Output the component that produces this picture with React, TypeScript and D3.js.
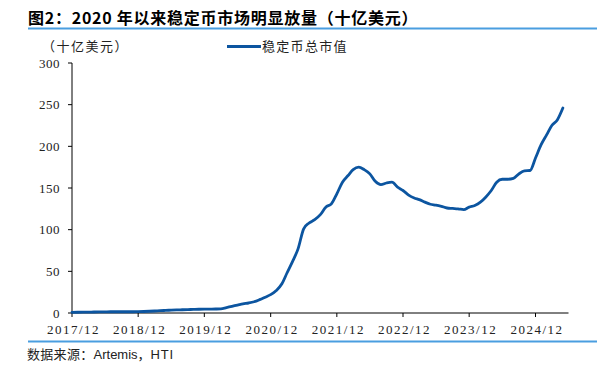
import React from "react";
import * as d3 from "d3";

const title = "图2：2020 年以来稳定币市场明显放量（十亿美元）";
const unitLabel = "（十亿美元）";
const seriesName = "稳定币总市值";
const sourceLabel = "数据来源：";
const sourceText = "Artemis";
const sourceSep = "，";
const sourceText2 = "HTI";

const startYear = 2017;
const startMonth = 11; // December (0-based)
// Monthly stablecoin market cap, billions USD, from 2017/12
const values = [
  0.8, 0.9, 1.0, 1.1, 1.2, 1.3, 1.4, 1.5, 1.5, 1.5, 1.5, 1.5,
  1.6, 1.8, 2.1, 2.4, 2.8, 3.1, 3.4, 3.7, 3.9, 4.1, 4.3, 4.5,
  4.6, 4.7, 4.8, 5.0, 6.5, 8.0, 9.5, 11.0, 12.0, 13.5, 16.0, 19.0,
  22.0, 27.0, 35.0, 48.0, 62.0, 77.0, 101.0, 108.0, 112.0, 118.0, 127.0, 131.0,
  143.0, 157.0, 165.0, 172.0, 175.0, 172.0, 167.0, 158.0, 154.0, 156.0, 157.0, 151.0,
  147.0, 141.5, 138.0, 136.0, 133.0, 130.5, 129.5, 128.0, 126.0, 125.5, 125.0, 124.0,
  127.0, 129.0, 133.0, 139.0, 147.0, 157.0, 160.5, 160.5, 161.5, 167.0, 170.5, 171.0,
  186.0, 202.0, 214.0, 225.0, 232.0, 246.0,
];
const yTicks = [0, 50, 100, 150, 200, 250, 300];
const xTickYears = [2017, 2018, 2019, 2020, 2021, 2022, 2023, 2024];

export default function App() {
  const W = 607;
  const H = 365;
  const x0 = 72, x1 = 568.5, yTop = 63, yBot = 313;

  const dates = values.map((_, i) => new Date(startYear, startMonth + i, 1));
  const x = d3
    .scaleTime()
    .domain([new Date(2017, 11, 1), new Date(2025, 5, 1)])
    .range([x0, x1]);
  const y = d3.scaleLinear().domain([0, 300]).range([yBot, yTop]);

  const line = d3
    .line<number>()
    .x((_, i) => x(dates[i]))
    .y((d) => y(d))
    .curve(d3.curveMonotoneX);

  const tickFont = "'Liberation Serif', 'DejaVu Serif', serif";
  const cjk = "'Noto Sans CJK SC', sans-serif";

  return (
    <svg
      width={W}
      height={H}
      style={{ position: "absolute", left: 0, top: 0, background: "#fff" }}
    >
      <text
        x={28}
        y={23.5}
        fontFamily={cjk}
        fontWeight="bold"
        fontSize={16}
        letterSpacing={0.75}
        fill="#000"
      >
        {title}
      </text>
      <line x1={28} x2={597} y1={28.5} y2={28.5} stroke="#4a9ee0" strokeWidth={2} />

      <text x={42} y={51} fontFamily={cjk} fontSize={13} letterSpacing={1.5} fill="#222">
        {unitLabel}
      </text>
      <line x1={227} x2={261} y1={46.5} y2={46.5} stroke="#0c55a0" strokeWidth={3} />
      <text x={262} y={51} fontFamily={cjk} fontSize={13} letterSpacing={1.3} fill="#222">
        {seriesName}
      </text>

      {/* y axis */}
      <line x1={x0} x2={x0} y1={yTop} y2={yBot} stroke="#000" strokeWidth={1} />
      {yTicks.map((t) => (
        <g key={t}>
          <line x1={x0 - 4} x2={x0} y1={y(t)} y2={y(t)} stroke="#000" />
          <text
            x={x0 - 12}
            y={y(t)}
            dy="0.35em"
            textAnchor="end"
            fontFamily={tickFont}
            fontSize={13}
            letterSpacing={0.5}
            fill="#222"
          >
            {t}
          </text>
        </g>
      ))}

      {/* x axis */}
      <line x1={x0} x2={x1} y1={yBot} y2={yBot} stroke="#000" strokeWidth={1} />
      {xTickYears.map((yr) => {
        const px = x(new Date(yr, 11, 1));
        return (
          <g key={yr}>
            <line x1={px} x2={px} y1={yBot} y2={yBot + 4} stroke="#000" />
            <text
              x={px + 1.5}
              y={333.5}
              textAnchor="middle"
              fontFamily={tickFont}
              fontSize={13}
              letterSpacing={1.5}
              fill="#222"
            >
              {`${yr}/12`}
            </text>
          </g>
        );
      })}

      <path
        d={line(values) || ""}
        fill="none"
        stroke="#0c55a0"
        strokeWidth={2.8}
        strokeLinejoin="round"
        strokeLinecap="round"
      />

      <line x1={28} x2={597} y1={341.5} y2={341.5} stroke="#4a9ee0" strokeWidth={2} />
      <text x={27} y={358.5} fontSize={13} fill="#222">
        <tspan fontFamily={cjk} letterSpacing={0.3}>{sourceLabel}</tspan>
        <tspan fontFamily="'Liberation Sans', Arial, sans-serif">{sourceText}</tspan>
        <tspan fontFamily={cjk}>{sourceSep}</tspan>
        <tspan fontFamily="'Liberation Sans', Arial, sans-serif" letterSpacing={0.8}>{sourceText2}</tspan>
      </text>
    </svg>
  );
}
